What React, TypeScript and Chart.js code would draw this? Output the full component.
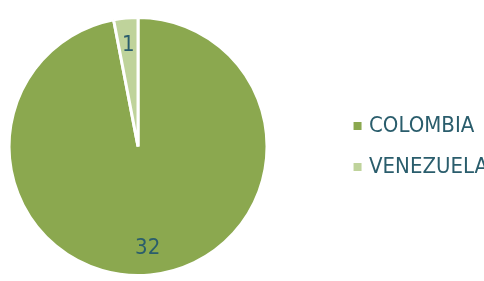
import React, { useEffect, useRef } from "react";
import { Chart, registerables } from "chart.js";

Chart.register(...registerables);

const categories = ["COLOMBIA", "VENEZUELA"];
const values = [32, 1];
const sliceColors = ["#8BA84F", "#BFD39B"];
const textColor = "#2A5D6C";
const fontFamily = '"Liberation Sans Narrow", "Arial Narrow", "DejaVu Sans Condensed", sans-serif';

const W = 484;
const H = 281;
const FS = 22;
const LEG_PAD = 19;
const BOX_W = 1;
const SHIFT = 62.5;
const LEGEND_LEFT_C = 400;

const sliceLabels = {
  id: "sliceLabels",
  afterDatasetsDraw(chart: any) {
    const ctx = chart.ctx;
    const meta = chart.getDatasetMeta(0);
    ctx.save();
    ctx.font = `${FS}px ${fontFamily}`;
    ctx.fillStyle = textColor;
    ctx.textAlign = "center";
    ctx.textBaseline = "middle";
    meta.data.forEach((arc: any, i: number) => {
      const p = arc.getProps(["x", "y", "startAngle", "endAngle", "outerRadius"], true);
      const mid = (p.startAngle + p.endAngle) / 2;
      const r = p.outerRadius * 0.79;
      ctx.fillText(String(values[i]), p.x + Math.cos(mid) * r, p.y + Math.sin(mid) * r);
    });
    ctx.restore();
  },
};

function legendWidthFor(): number {
  const mctx = document.createElement("canvas").getContext("2d")!;
  mctx.font = `${FS}px ${fontFamily}`;
  const maxText = Math.max(...categories.map((c) => mctx.measureText(c).width));
  return LEG_PAD + BOX_W + FS / 2 + maxText + 10;
}

export default function App() {
  const ref = useRef<HTMLCanvasElement>(null);
  const cw = Math.ceil(LEGEND_LEFT_C + legendWidthFor());
  useEffect(() => {
    if (!ref.current) return;
    const chart = new Chart(ref.current, {
      type: "pie",
      data: {
        labels: categories,
        datasets: [
          {
            data: values,
            backgroundColor: sliceColors,
            borderColor: "#FFFFFF",
            borderWidth: 3,
            radius: 129,
          } as any,
        ],
      },
      options: {
        animation: false,
        responsive: false,
        events: [],
        layout: { padding: { left: 0, right: 0, top: 12, bottom: 0 } },
        plugins: {
          tooltip: { enabled: false },
          legend: {
            position: "right",
            labels: {
              usePointStyle: true,
              boxWidth: BOX_W,
              boxHeight: 8,
              padding: LEG_PAD,
              color: textColor,
              font: { family: fontFamily, size: FS },
              generateLabels: () =>
                categories.map((c, i) => ({
                  text: c,
                  fillStyle: sliceColors[i],
                  strokeStyle: sliceColors[i],
                  lineWidth: 0,
                  pointStyle: "rect",
                  hidden: false,
                  index: i,
                  fontColor: textColor,
                })),
            },
          },
        },
      },
      plugins: [sliceLabels],
    });
    return () => chart.destroy();
  }, []);
  return (
    <div style={{ position: "fixed", left: 0, top: 0, width: W, height: H, background: "#fff", overflow: "hidden" }}>
      <canvas
        ref={ref}
        width={cw}
        height={H}
        style={{ display: "block", position: "absolute", left: -SHIFT, top: 0 }}
      />
    </div>
  );
}
